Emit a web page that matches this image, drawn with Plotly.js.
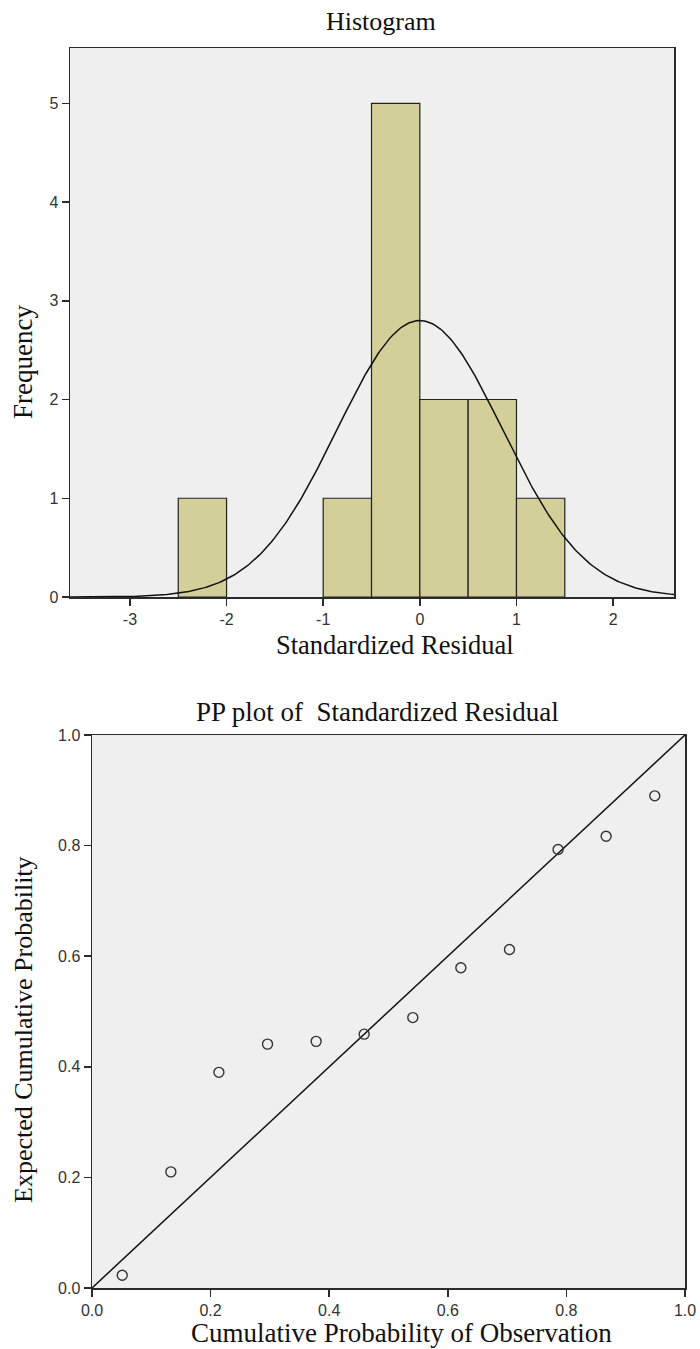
<!DOCTYPE html>
<html>
<head>
<meta charset="utf-8">
<script src="https://cdn.plot.ly/plotly-3.0.1.min.js"></script>
<style>
html,body{margin:0;padding:0;background:#fff;}
#chart{width:700px;height:1349px;}
</style>
</head>
<body>
<div id="chart"></div>
<script>
// ---- Histogram data ----
const binLeftEdges = [-2.5, -1.0, -0.5, 0.0, 0.5, 1.0];
const binCounts = [1, 1, 5, 2, 2, 1];
const binWidth = 0.5;
// fitted normal curve parameters
const normMean = 0.0;
const normSD = 0.855;
const normN = 12;
const histXTicks = [-3, -2, -1, 0, 1, 2];
const histXTickLabels = ['-3', '-2', '-1', '0', '1', '2'];
const histYTicks = [0, 1, 2, 3, 4, 5];

// ---- PP plot data ----
const ppObserved = [0.051, 0.133, 0.214, 0.296, 0.378, 0.459, 0.541, 0.622, 0.704, 0.786, 0.867, 0.949];
const ppExpected = [0.023, 0.210, 0.390, 0.441, 0.446, 0.459, 0.489, 0.579, 0.612, 0.793, 0.817, 0.890];
const ppTicks = [0.0, 0.2, 0.4, 0.6, 0.8, 1.0];
const ppTickLabels = ['0.0', '0.2', '0.4', '0.6', '0.8', '1.0'];
const refLine = [0, 1];

// ---- layout helpers ----
const W = 700, H = 1349;
const px = x => x / W;
const py = y => 1 - y / H;

const histRange = [-3.62, 2.63];
const curveX = [], curveY = [];
for (let i = 0; i <= 300; i++) {
  const x = histRange[0] + (histRange[1] - histRange[0]) * i / 300;
  const z = (x - normMean) / normSD;
  curveX.push(x);
  curveY.push(normN * binWidth / (normSD * Math.sqrt(2 * Math.PI)) * Math.exp(-0.5 * z * z));
}

const serif = 'Liberation Serif, Times New Roman, serif';
const sans = 'Liberation Sans, Arial, sans-serif';
const frame = '#2b2b2b';
const bg = '#efefef';

const traces = [
  {
    type: 'bar', x: binLeftEdges, y: binCounts, width: binWidth, offset: 0,
    marker: {color: '#d3cf99', line: {color: '#222', width: 1.2}},
    xaxis: 'x', yaxis: 'y', hoverinfo: 'skip'
  },
  {
    type: 'scatter', mode: 'lines', x: curveX, y: curveY,
    line: {color: '#111', width: 1.5}, xaxis: 'x', yaxis: 'y', hoverinfo: 'skip'
  },
  {
    type: 'scatter', mode: 'lines', x: refLine, y: refLine,
    line: {color: '#111', width: 1.5}, xaxis: 'x2', yaxis: 'y2', hoverinfo: 'skip'
  },
  {
    type: 'scatter', mode: 'markers', x: ppObserved, y: ppExpected,
    marker: {symbol: 'circle-open', size: 10, color: '#333', line: {width: 1.4, color: '#333'}},
    xaxis: 'x2', yaxis: 'y2', hoverinfo: 'skip'
  }
];

const axBase = {
  showline: true, linecolor: frame, linewidth: 1.5, mirror: true,
  ticks: 'outside', ticklen: 7, tickwidth: 1.5, tickcolor: frame,
  showgrid: false, zeroline: false,
  tickfont: {family: sans, size: 16, color: '#333'}
};

const layout = {
  width: W, height: H,
  margin: {l: 0, r: 0, t: 0, b: 0},
  paper_bgcolor: '#fff', plot_bgcolor: bg,
  showlegend: false,
  xaxis: Object.assign({}, axBase, {
    domain: [px(70), px(674)], range: histRange, tickvals: histXTicks, ticktext: histXTickLabels,
    anchor: 'y'
  }),
  yaxis: Object.assign({}, axBase, {
    domain: [py(597), py(48)], range: [0, 5.56], tickvals: histYTicks,
    anchor: 'x'
  }),
  xaxis2: Object.assign({}, axBase, {
    domain: [px(92), px(685)], range: [0, 1], tickvals: ppTicks, ticktext: ppTickLabels,
    anchor: 'y2'
  }),
  yaxis2: Object.assign({}, axBase, {
    domain: [py(1288), py(735)], range: [0, 1], tickvals: ppTicks, ticktext: ppTickLabels,
    anchor: 'x2'
  }),
  annotations: [
    {text: 'Histogram', xref: 'paper', yref: 'paper', x: px(381), y: py(22),
     showarrow: false, xanchor: 'center', yanchor: 'middle',
     font: {family: serif, size: 26, color: '#111'}},
    {text: 'Standardized Residual', xref: 'paper', yref: 'paper', x: px(395), y: py(645),
     showarrow: false, xanchor: 'center', yanchor: 'middle',
     font: {family: serif, size: 26.5, color: '#111'}},
    {text: 'Frequency', xref: 'paper', yref: 'paper', x: px(23), y: py(362),
     showarrow: false, xanchor: 'center', yanchor: 'middle', textangle: -90,
     font: {family: serif, size: 27, color: '#111'}},
    {text: 'PP plot of  Standardized Residual', xref: 'paper', yref: 'paper', x: px(377), y: py(712),
     showarrow: false, xanchor: 'center', yanchor: 'middle',
     font: {family: serif, size: 27, color: '#111'}},
    {text: 'Cumulative Probability of Observation', xref: 'paper', yref: 'paper', x: px(401), y: py(1333),
     showarrow: false, xanchor: 'center', yanchor: 'middle',
     font: {family: serif, size: 27, color: '#111'}},
    {text: 'Expected Cumulative Probability', xref: 'paper', yref: 'paper', x: px(23), y: py(1030),
     showarrow: false, xanchor: 'center', yanchor: 'middle', textangle: -90,
     font: {family: serif, size: 26, color: '#111'}}
  ]
};

Plotly.newPlot('chart', traces, layout, {staticPlot: true, displayModeBar: false});
</script>
</body>
</html>
